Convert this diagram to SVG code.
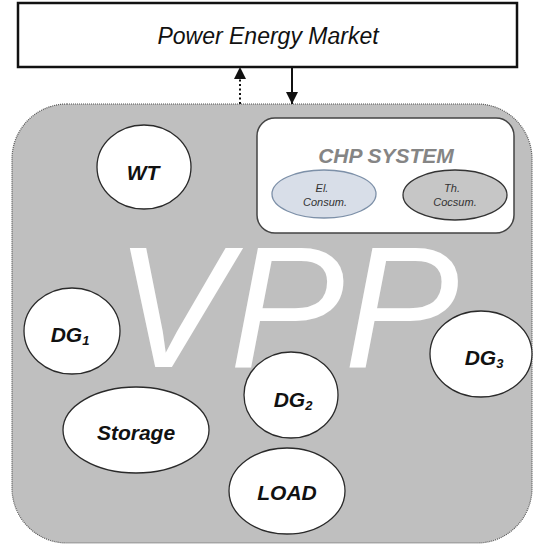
<svg xmlns="http://www.w3.org/2000/svg" width="534" height="548" viewBox="0 0 534 548">
<defs>
<style>
.node{fill:#fff;stroke:#2a2a2a;stroke-width:1.3}
.lbl{font-family:"Liberation Sans",Arial,sans-serif;font-weight:bold;font-style:italic;font-size:21px;fill:#111;text-anchor:middle}
.sub{font-size:13px}
.small{font-family:"Liberation Sans",Arial,sans-serif;font-style:italic;font-size:11px;fill:#333;text-anchor:middle}
</style>
<marker id="ah" viewBox="0 0 12 12" refX="12" refY="6" markerWidth="12" markerHeight="12" markerUnits="userSpaceOnUse" orient="auto">
<path d="M0,0 L12,6 L0,12 Z" fill="#111"/>
</marker>
</defs>
<rect width="534" height="548" fill="#fff"/>
<g id="market">
<rect x="18" y="3" width="499" height="64" fill="#fff" stroke="#111" stroke-width="2.5"/>
<text x="268" y="44" font-family="'Liberation Sans',Arial,sans-serif" font-style="italic" font-size="23" fill="#111" text-anchor="middle">Power Energy Market</text>
</g>
<g id="vpp">
<rect x="12" y="104" width="520" height="439" rx="55" ry="55" fill="#bfbfbf" stroke="#555" stroke-width="1.2" stroke-dasharray="1 1"/>
<text x="287" y="367" font-family="'Liberation Sans',Arial,sans-serif" font-style="italic" font-size="172" fill="#fff" text-anchor="middle">VPP</text>
</g>
<g id="connectors">
<line x1="240" y1="104" x2="240" y2="67" stroke="#111" stroke-width="2" stroke-dasharray="2 2.5" marker-end="url(#ah)"/>
<line x1="292" y1="67" x2="292" y2="104" stroke="#111" stroke-width="2" marker-end="url(#ah)"/>
</g>
<g id="chp">
<rect x="257" y="118" width="257" height="115" rx="18" ry="18" fill="#fff" stroke="#444" stroke-width="1.5"/>
<text x="386" y="163" font-family="'Liberation Sans',Arial,sans-serif" font-weight="bold" font-style="italic" font-size="21" fill="#858585" text-anchor="middle">CHP SYSTEM</text>
</g>
<g id="el-consum">
<ellipse cx="324" cy="194" rx="52" ry="24" fill="#d8dee8" stroke="#7d90a8" stroke-width="1.3"/>
<text class="small" x="322" y="192">El.</text>
<text class="small" x="325" y="206">Consum.</text>
</g>
<g id="th-consum">
<ellipse cx="455" cy="195" rx="52" ry="25" fill="#c6c6c6" stroke="#333" stroke-width="1.3"/>
<text class="small" x="452" y="192">Th.</text>
<text class="small" x="455" y="206">Cocsum.</text>
</g>
<g id="wt">
<ellipse class="node" cx="144" cy="167" rx="47" ry="42"/>
<text class="lbl" x="143" y="180">WT</text>
</g>
<g id="dg1">
<ellipse class="node" cx="72" cy="331" rx="48" ry="43"/>
<text class="lbl" x="70" y="342">DG<tspan class="sub" dy="3">1</tspan></text>
</g>
<g id="dg2">
<ellipse class="node" cx="291" cy="395" rx="47" ry="43"/>
<text class="lbl" x="293" y="407">DG<tspan class="sub" dy="3">2</tspan></text>
</g>
<g id="dg3">
<ellipse class="node" cx="481" cy="354" rx="51" ry="43"/>
<text class="lbl" x="484" y="365">DG<tspan class="sub" dy="3">3</tspan></text>
</g>
<g id="storage">
<ellipse class="node" cx="136" cy="430" rx="73" ry="43"/>
<text class="lbl" x="136" y="440">Storage</text>
</g>
<g id="load">
<ellipse class="node" cx="287" cy="491" rx="58" ry="43"/>
<text class="lbl" x="287" y="500">LOAD</text>
</g>
</svg>
